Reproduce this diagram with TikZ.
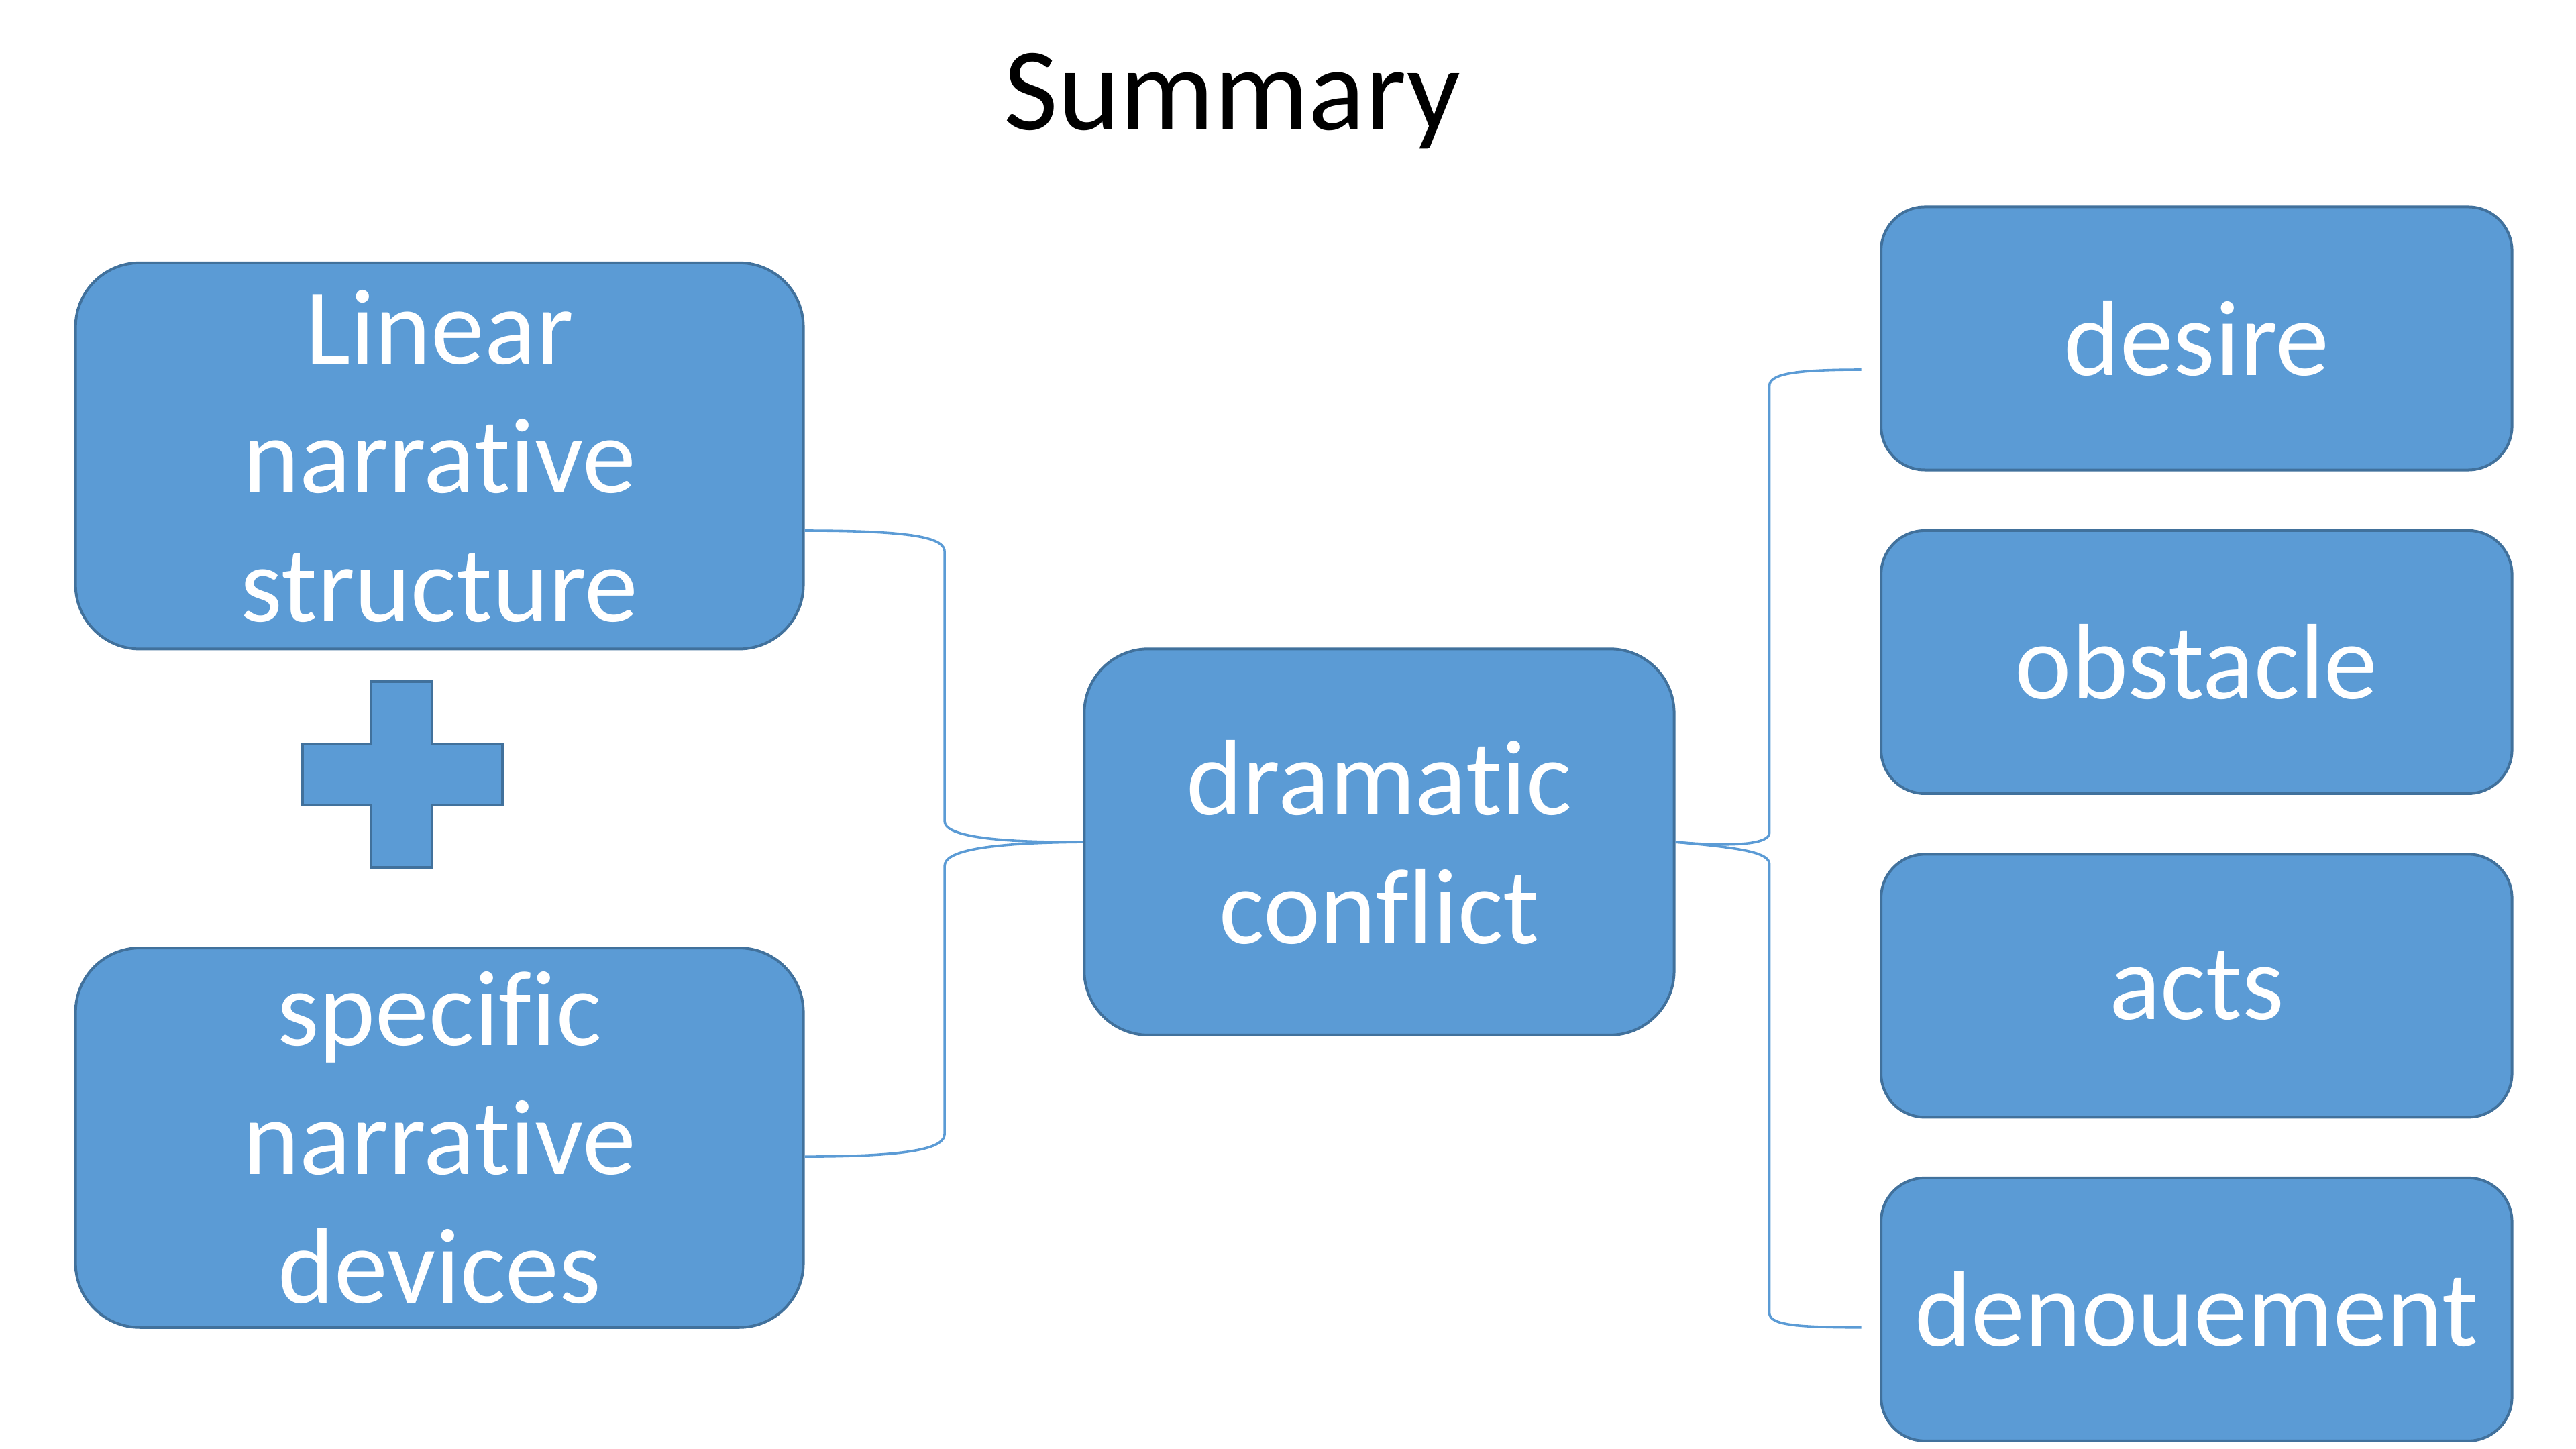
\documentclass[tikz,border=0pt]{standalone}
\usepackage{fontspec}
\setmainfont{Carlito}[Ligatures=CommonOff]
\usepackage{xcolor}
\usepackage{tikz}
\usetikzlibrary{positioning,calc}

\definecolor{boxblue}{HTML}{5B9BD5}
\definecolor{boxedge}{HTML}{41719C}

\tikzset{
  card/.style={draw=boxedge, line width=1pt, fill=boxblue, text=white, align=center,
    font=\fontsize{40}{48}\selectfont, inner sep=0pt},
  bigcard/.style={card, minimum width=271.2pt, minimum height=143.9pt, rounded corners=23.9pt},
  smallcard/.style={card, minimum width=235.1pt, minimum height=98pt, rounded corners=16.3pt},
  brace/.style={draw=boxblue, line width=0.9pt},
}

\begin{document}
\begin{tikzpicture}[x=0.6122pt, y=-0.6122pt]
\useasboundingbox (0,0) rectangle (1568,882);

% Title
\node[font=\fontsize{44}{53}\selectfont, anchor=base] (title) at (750,79) {Summary};

% Left column
\node[bigcard] (lin) at (267.5,277.5) {Linear\\narrative\\structure};
\node[bigcard, minimum height=141.4pt] (spec) at (267.5,692.5) {specific\\narrative\\devices};

% Plus sign
\filldraw[fill=boxblue, draw=boxedge, line width=1pt]
    (226,415) -- (263,415) -- (263,453) -- (306,453) -- (306,490) -- (263,490)
    -- (263,528) -- (226,528) -- (226,490) -- (184,490) -- (184,453) -- (226,453) -- cycle;

% Middle
\node[bigcard, minimum width=219.8pt] (dram) at (839.5,512.5) {dramatic\\conflict};

% Right column
\node[smallcard] (desire) at (1337,206) {desire};
\node[smallcard] (obst) at (1337,403) {obstacle};
\node[smallcard] (acts) at (1337,600) {acts};
\node[smallcard] (denou) at (1337,797) {denouement};

% Left brace
\coordinate (linR) at (lin.east |- 0,323);
\coordinate (specR) at (spec.east |- 0,704);
\draw[brace] (linR) .. controls (560,323) and (575,328) .. (575,336) -- (575,500)
    .. controls (575,508) and (600,513) .. (dram.west);
\draw[brace] (dram.west) .. controls (600,513) and (575,518) .. (575,527) -- (575,690)
    .. controls (575,698) and (560,704) .. (specR);

% Right brace
\coordinate (braceTop) at (1133,225);
\coordinate (braceBot) at (1133,808);
\draw[brace] (braceTop) .. controls (1090,225) and (1077,228) .. (1077,235) -- (1077,507)
    .. controls (1077,513) and (1060,516) .. (dram.east);
\draw[brace] (dram.east) .. controls (1060,516) and (1077,519) .. (1077,526) -- (1077,799)
    .. controls (1077,806) and (1090,808) .. (braceBot);
\end{tikzpicture}
\end{document}
